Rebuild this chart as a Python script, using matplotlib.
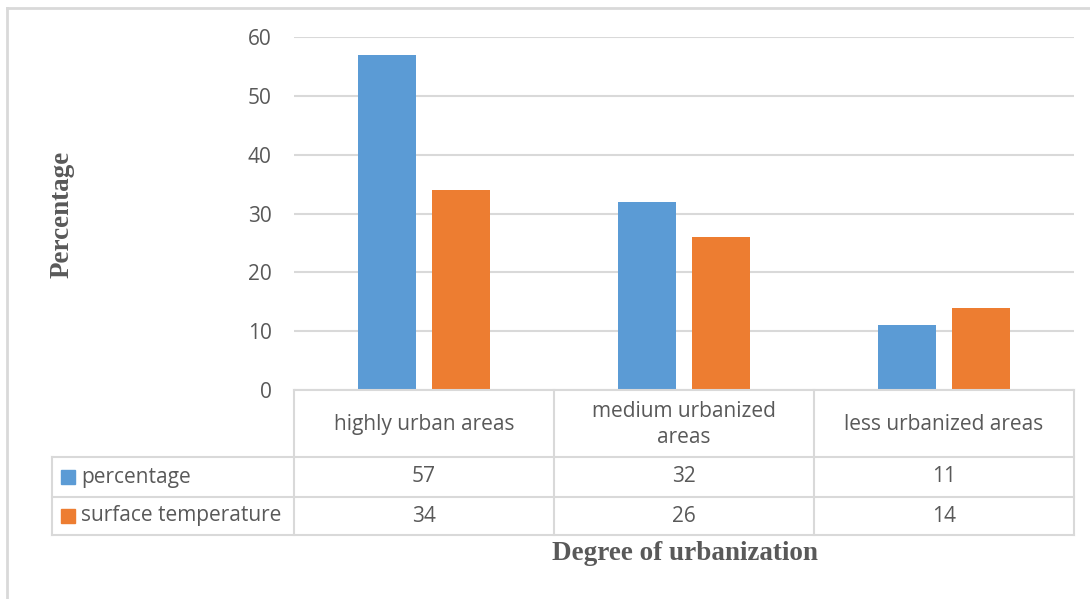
import matplotlib.pyplot as plt
import numpy as np
from matplotlib.lines import Line2D
from matplotlib.patches import Rectangle

categories = ["highly urban areas", "medium urbanized\nareas", "less urbanized areas"]
series_names = ["percentage", "surface temperature"]
percentage = [57, 32, 11]
surface_temp = [34, 26, 14]
yticks = [0, 10, 20, 30, 40, 50, 60]

blue = "#5B9BD5"
orange = "#ED7D31"
grey = "#D9D9D9"
txt = "#595959"
tick_font = "Open Sans"
fs = 15

W, H = 1090, 599
fig = plt.figure(figsize=(W / 100, H / 100), dpi=100)


def fx(px):
    return px / W


def fy(py):
    return 1 - py / H


# plot area in pixels
left, right, top, bottom = 294, 1074, 37, 390
ax = fig.add_axes([fx(left), fy(bottom), fx(right - left), fy(top) - fy(bottom)])

x = np.arange(len(categories))
w = 0.223
off = 0.142
ax.bar(x - off, percentage, w, color=blue, zorder=3)
ax.bar(x + off, surface_temp, w, color=orange, zorder=3)
ax.set_xlim(-0.5, len(categories) - 0.5)
ax.set_ylim(0, 60)
ax.set_yticks(yticks)
ax.set_yticklabels([str(t) for t in yticks], fontsize=fs, color=txt, family=tick_font)
ax.tick_params(axis="y", length=0, pad=16)
ax.set_xticks([])
ax.grid(axis="y", color=grey, linewidth=1.5, zorder=0)
for s in ax.spines.values():
    s.set_visible(False)

# data table
row_y = [390, 457, 497, 535]
col_x = [52, 294, 554, 814, 1074]


def hline(x0, x1, y):
    fig.add_artist(Line2D([fx(x0), fx(x1)], [fy(y), fy(y)], color=grey, lw=1.5))


def vline(x0, y0, y1):
    fig.add_artist(Line2D([fx(x0), fx(x0)], [fy(y0), fy(y1)], color=grey, lw=1.5))


hline(col_x[1], col_x[-1], row_y[0])
for y in row_y[1:]:
    hline(col_x[0], col_x[-1], y)
vline(col_x[0], row_y[1], row_y[-1])
for cx in col_x[1:]:
    vline(cx, row_y[0], row_y[-1])

for i, cat in enumerate(categories):
    cx = (col_x[i + 1] + col_x[i + 2]) / 2
    fig.text(fx(cx), fy((row_y[0] + row_y[1]) / 2 + 1), cat, ha="center", va="center",
             fontsize=fs, color=txt, family=tick_font, linespacing=1.3)
    for r, vals in enumerate([percentage, surface_temp]):
        cy = (row_y[r + 1] + row_y[r + 2]) / 2
        fig.text(fx(cx), fy(cy), str(vals[i]), ha="center", va="center",
                 fontsize=fs, color=txt, family=tick_font)

for r, (name, col) in enumerate(zip(series_names, [blue, orange])):
    cy = (row_y[r + 1] + row_y[r + 2]) / 2
    fig.add_artist(Rectangle((fx(61), fy(cy + 7)), fx(14), fy(cy - 7) - fy(cy + 7),
                             color=col, transform=fig.transFigure))
    fig.text(fx(81), fy(cy), name, ha="left", va="center",
             fontsize=fs, color=txt, family=tick_font)

# axis titles
fig.text(fx(62), fy(214), "Percentage", rotation=90, ha="center", va="center",
         fontsize=19.5, fontweight="bold", family="Liberation Serif", color=txt)
fig.text(fx(685), fy(554), "Degree of urbanization", ha="center", va="center",
         fontsize=19.5, fontweight="bold", family="Liberation Serif", color=txt)

# chart frame
fig.add_artist(Line2D([fx(7), fx(W)], [fy(8), fy(8)], color=grey, lw=2))
fig.add_artist(Line2D([fx(7), fx(7)], [fy(8), fy(H)], color=grey, lw=2))

fig.savefig("out.png", dpi=100)
